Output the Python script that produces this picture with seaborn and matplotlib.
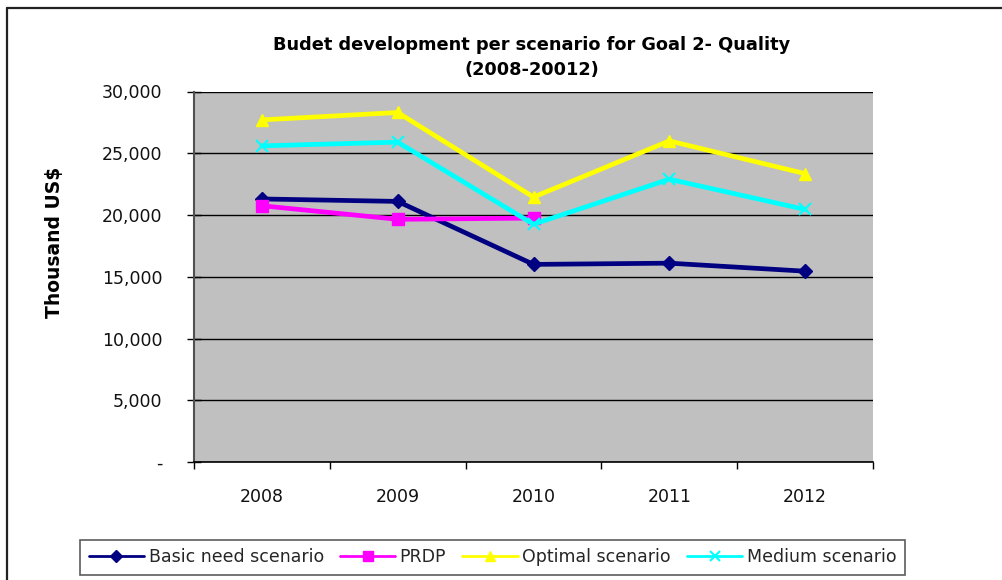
import numpy as np
import pandas as pd
import matplotlib
matplotlib.use("Agg")
import matplotlib.pyplot as plt
import matplotlib.ticker as mticker
from matplotlib.lines import Line2D
import seaborn as sns

years = ["2008", "2009", "2010", "2011", "2012"]
basic_need = [21300, 21100, 16000, 16100, 15450]
prdp = [20750, 19650, 19750, np.nan, np.nan]
optimal = [27700, 28300, 21450, 26000, 23350]
medium = [25600, 25900, 19250, 22900, 20450]
series_names = ["Basic need scenario", "PRDP", "Optimal scenario", "Medium scenario"]
y_ticks = [0, 5000, 10000, 15000, 20000, 25000, 30000]

sns.set_theme(style="white")
plt.rcParams["font.family"] = ["DejaVu Sans"]

W, H = 1003, 580
fig = plt.figure(figsize=(W / 100, H / 100), dpi=100)
fig.patch.set_facecolor("white")
fig.patch.set_edgecolor("white")
fig.patch.set_linewidth(0)

ax_l, ax_r, ax_t, ax_b = 194, 873, 91.5, 462
ax = fig.add_axes([ax_l / W, 1 - ax_b / H, (ax_r - ax_l) / W, (ax_b - ax_t) / H])
ax.set_facecolor("#C0C0C0")

styles = [
    dict(color="#000080", marker="D", markersize=7),
    dict(color="#FF00FF", marker="s", markersize=8),
    dict(color="#FFFF00", marker="^", markersize=9),
    dict(color="#00FFFF", marker="x", markersize=9, markeredgewidth=1.5),
]
data = [basic_need, prdp, optimal, medium]
x = np.arange(len(years))

ax.set_ylim(0, 30000)
ax.set_xlim(-0.5, len(years) - 0.5)
ax.set_yticks(y_ticks)
ax.yaxis.grid(True, color="black", linewidth=1.0)
ax.set_axisbelow(True)

handles = []
for name, vals, st in zip(series_names, data, styles):
    df = pd.DataFrame({"x": x, "y": vals}).dropna()
    sns.lineplot(data=df, x="x", y="y", ax=ax, color=st["color"], linewidth=3.4,
                 marker=st["marker"], markersize=st["markersize"],
                 markeredgecolor=st["color"], markerfacecolor=st["color"],
                 markeredgewidth=st.get("markeredgewidth", 1), sort=False, legend=False)
    handles.append(Line2D([0], [0], color=st["color"], linewidth=2.0, marker=st["marker"],
                          markersize=st["markersize"] * 0.85, markerfacecolor=st["color"],
                          markeredgecolor=st["color"],
                          markeredgewidth=st.get("markeredgewidth", 1)))

ax.set_xlabel("")
ax.set_ylabel("")

ax.yaxis.set_major_formatter(mticker.FuncFormatter(lambda v, p: f"{v:,.0f}" if v else "-"))
ax.tick_params(axis="y", which="major", direction="inout", length=9.5, width=1,
               color="black", pad=18, labelsize=12.5, labelcolor="#111111", left=True)

ax.set_xticks(x)
ax.set_xticklabels(years)
ax.set_xticks(np.arange(-0.5, len(years), 1.0), minor=True)
ax.tick_params(axis="x", which="major", length=0, pad=19, labelsize=12.5, labelcolor="#111111")
ax.tick_params(axis="x", which="minor", direction="out", length=5, width=1, color="black", bottom=True)

for s in ["top", "right"]:
    ax.spines[s].set_visible(False)
ax.spines["left"].set_color("#505050")
ax.spines["left"].set_linewidth(1.5)
ax.spines["bottom"].set_color("black")
ax.spines["bottom"].set_linewidth(1.2)

fig.text(532 / W, 1 - 57.5 / H, "Budet development per scenario for Goal 2- Quality\n(2008-20012)",
         ha="center", va="center", fontsize=12.8, fontweight="bold", linespacing=1.45, color="black")
fig.text(55 / W, 1 - 242 / H, "Thousand US$", rotation=90, ha="center", va="center",
         fontsize=13.5, fontweight="bold", color="black")

leg = fig.legend(handles, series_names, loc="lower left",
                 bbox_to_anchor=(80 / W, 1 - 575 / H, (905 - 80) / W, (575 - 533) / H),
                 mode="expand", ncol=4, frameon=True, fancybox=False, fontsize=12.5,
                 handlelength=3.2, handletextpad=0.25, columnspacing=0.4, borderaxespad=0,
                 borderpad=0.5)
leg.get_frame().set_edgecolor("#333333")
leg.get_frame().set_linewidth(1.2)

# outer chart border: only left and top edges are visible in the reference
bx, by = 7 / W, 1 - 8 / H
fig.add_artist(Line2D([bx, bx], [0, by], transform=fig.transFigure, color="#222222", linewidth=1.6))
fig.add_artist(Line2D([bx, 1.0], [by, by], transform=fig.transFigure, color="#222222", linewidth=1.6))

fig.savefig("out.png", dpi=100, facecolor="white", edgecolor="white")
